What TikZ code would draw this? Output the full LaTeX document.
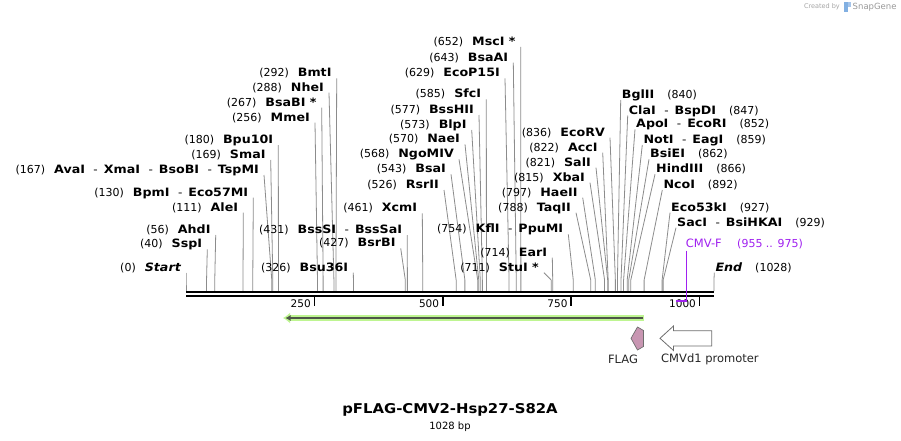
\documentclass[tikz,border=0pt]{standalone}
\usepackage{fontspec}
\setmainfont{DejaVu Sans}
\newfontfamily\labfont{DejaVu Sans}[FakeStretch=1.1]
\usepackage{xcolor}
\usepackage{tikz}
\usetikzlibrary{arrows.meta,positioning}
\definecolor{cutgray}{RGB}{140,140,140}
\definecolor{primerpurple}{RGB}{160,32,240}
\definecolor{orfglow}{RGB}{190,245,145}
\definecolor{orfdark}{RGB}{78,86,72}
\definecolor{flagpink}{RGB}{200,150,178}
\definecolor{featgray}{RGB}{110,110,110}
\newcommand{\numfont}{\fontsize{11}{13}\selectfont\mdseries}
\newcommand{\namefont}{\labfont\fontsize{11.5}{13}\selectfont\bfseries}
\newcommand{\orsep}{\hspace{8.5pt}{\numfont-}\hspace{6pt}}
\newcommand{\lsite}[2]{{\numfont(#1)}\hspace{9pt}{\namefont #2}}
\newcommand{\rsite}[2]{{\namefont #1}\hspace{13pt}{\numfont(#2)}}

\begin{document}
\begin{tikzpicture}[
    x=1pt, y=-1pt,
    sitelab/.style={inner sep=0pt, text=black},
    cutline/.style={cutgray, line width=0.8pt},
    backbone/.style={black, line width=2.2pt},
    ticker/.style={black, line width=1.5pt},
    ticklab/.style={inner sep=0pt, font=\fontsize{10.5}{12}\selectfont},
    primer/.style={primerpurple, line width=1pt},
    featlab/.style={inner sep=0pt, text=black!85, font=\fontsize{11.5}{13}\selectfont}
]
\useasboundingbox (0,0) rectangle (901,441);
\fill[white] (0,0) rectangle (901,441);

% enzyme sites, labels on the left
\foreach \id/\tx/\ty/\bp/\txt in {
    Start/186/272.7/0/{\lsite{0}{\itshape Start}},
    SspI/207.3/249.3/40/{\lsite{40}{SspI}},
    AhdI/215.7/235/56/{\lsite{56}{AhdI}},
    AleI/243.3/212.7/111/{\lsite{111}{AleI}},
    BpmI/253.3/197.7/130/{\lsite{130}{BpmI\orsep Eco57MI}},
    AvaI/264/175/167/{\lsite{167}{AvaI\orsep XmaI\orsep BsoBI\orsep TspMI}},
    SmaI/270.7/160/169/{\lsite{169}{SmaI}},
    Bpu10I/278.3/145/180/{\lsite{180}{Bpu10I}},
    MmeI/315/122.7/256/{\lsite{256}{MmeI}},
    BsaBI/321.7/107.7/267/{\lsite{267}{BsaBI *}},
    NheI/329/92.7/288/{\lsite{288}{NheI}},
    BmtI/336.7/78.3/292/{\lsite{292}{BmtI}},
    Bsu36I/353.3/272.7/326/{\lsite{326}{Bsu36I}},
    BsrBI/400.7/248.3/427/{\lsite{427}{BsrBI}},
    BssSI/407.3/235/431/{\lsite{431}{BssSI\orsep BssSaI}},
    XcmI/422.3/213.3/461/{\lsite{461}{XcmI}},
    RsrII/444/190/526/{\lsite{526}{RsrII}},
    BsaI/451/174.3/543/{\lsite{543}{BsaI}},
    NgoMIV/459/159.3/568/{\lsite{568}{NgoMIV}},
    NaeI/465/144.3/570/{\lsite{570}{NaeI}},
    BlpI/471.7/130/573/{\lsite{573}{BlpI}},
    BssHII/479/115/577/{\lsite{577}{BssHII}},
    SfcI/486.3/99.3/585/{\lsite{585}{SfcI}},
    EcoPI/505/78.3/629/{\lsite{629}{EcoP15I}},
    BsaAI/513.3/62.7/643/{\lsite{643}{BsaAI}},
    MscI/520.7/47/652/{\lsite{652}{MscI *}},
    StuI/544/272.7/711/{\lsite{711}{StuI *}},
    EarI/552.3/257.7/714/{\lsite{714}{EarI}},
    KflI/568.3/234.3/754/{\lsite{754}{KflI\orsep PpuMI}},
    TaqII/576/212.7/788/{\lsite{788}{TaqII}},
    HaeII/582.7/197.7/797/{\lsite{797}{HaeII}},
    XbaI/590/182.7/815/{\lsite{815}{XbaI}},
    SalI/596/167.7/821/{\lsite{821}{SalI}},
    AccI/602.7/152.7/822/{\lsite{822}{AccI}},
    EcoRV/610/137.7/836/{\lsite{836}{EcoRV}}} {
  \coordinate (s\id) at ({186+0.5136*\bp},291);
  \node[sitelab, anchor=base east] (l\id) at ({\tx-5},{\ty-1.5}) {\txt};
  \draw[cutline] ([xshift=5pt,yshift=-1.5pt]l\id.base east) -- ([yshift=11pt]s\id) -- (s\id);
}

% enzyme sites, labels on the right
\foreach \id/\tx/\ty/\bp/\txt in {
    BglII/620.7/100/840/{\rsite{BglII}{840}},
    ClaI/627.7/115.5/847/{\rsite{ClaI\orsep BspDI}{847}},
    ApoI/635/129.3/852/{\rsite{ApoI\orsep EcoRI}{852}},
    NotI/642.3/145/859/{\rsite{NotI\orsep EagI}{859}},
    BsiEI/649/159.3/862/{\rsite{BsiEI}{862}},
    HindIII/655/174.3/866/{\rsite{HindIII}{866}},
    NcoI/662.3/190/892/{\rsite{NcoI}{892}},
    EcoSK/670/212.7/927/{\rsite{Eco53kI}{927}},
    SacI/676/227.7/929/{\rsite{SacI\orsep BsiHKAI}{929}},
    End/714.3/272.7/1028/{\rsite{\itshape End}{1028}}} {
  \coordinate (s\id) at ({186+0.5136*\bp},291);
  \node[sitelab, anchor=base west] (l\id) at ({\tx+1},{\ty-1.5}) {\txt};
  \draw[cutline] ([xshift=-1pt,yshift=-1.5pt]l\id.base west) -- ([yshift=11pt]s\id) -- (s\id);
}

% backbone and ruler
\coordinate (bbL) at (186,292.2);
\coordinate (bbR) at (714,292.2);
\draw[backbone] (bbL) -- (bbR);
\draw[backbone] ([yshift=-3.6pt]bbL) -- ([yshift=-3.6pt]bbR);
\foreach \t in {250,500,750,1000} {
  \coordinate (t\t) at ({186+0.5136*\t},296);
  \draw[ticker] (t\t) -- ++(0,10);
  \node[ticklab, anchor=base east] (n\t) at ([xshift=-3.5pt,yshift=-11.3pt]t\t) {\t};
}

% primer
\coordinate (pL) at (676,301);
\coordinate (pR) at (686.7,301);
\node[sitelab, anchor=base west, text=primerpurple, font=\fontsize{11.5}{13}\selectfont] (lCMVF) at (685.7,247) {CMV-F};
\node[sitelab, anchor=base west, text=primerpurple, font=\fontsize{11}{13}\selectfont] (lCMVFpos) at ([xshift=15pt]lCMVF.base east) {(955 .. 975)};
\draw[primer] ([xshift=1pt,yshift=-3.5pt]lCMVF.base west) -- (pR);
\draw[primerpurple, line width=2pt] (pL) -- (pR);

% ORF arrow
\coordinate (oR) at (644,318);
\coordinate (oL) at (283,318);
\draw[orfglow, line width=6pt, -{Latex[length=7pt,width=11pt]}] (oR) -- (oL);
\draw[orfdark, line width=2pt, -{Latex[length=5pt,width=6pt]}] ([xshift=-1.5pt]oR) -- ([xshift=2.5pt]oL);

% features
\draw[featgray, fill=flagpink, line width=0.7pt] (643.5,330.5) -- (637.5,327) -- (631,338.3) -- (637.5,350) -- (643.5,346.5) -- cycle;
\draw[featgray, fill=white, line width=0.8pt] (660,338.3) -- (673.5,326) -- (673.5,330.7) -- (711.8,330.7) -- (711.8,346) -- (673.5,346) -- (673.5,350.5) -- cycle;
\node[featlab] (lFLAG) at (623,359) {FLAG};
\node[featlab, anchor=west] (lCMVd1) at (661,359) {CMVd1 promoter};

% title
\node[inner sep=0pt, font=\labfont\fontsize{13.5}{15}\selectfont\bfseries] (title) at (450,410) {pFLAG-CMV2-Hsp27-S82A};
\node[inner sep=0pt, font=\fontsize{10}{12}\selectfont, below=5pt of title] (size) {1028 bp};

% credit
\node[inner sep=0pt, anchor=east, text=black!35, font=\fontsize{6.5}{8}\selectfont] (credit) at (840,7) {Created by};
\fill[cyan!60!blue!50] (843.5,2) rectangle (848,12);
\fill[cyan!60!blue!35] (848,2) rectangle (850.5,7);
\node[inner sep=0pt, anchor=west, text=black!40, font=\fontsize{8.5}{10}\selectfont] (brand) at (852.5,7) {SnapGene};
\end{tikzpicture}
\end{document}
